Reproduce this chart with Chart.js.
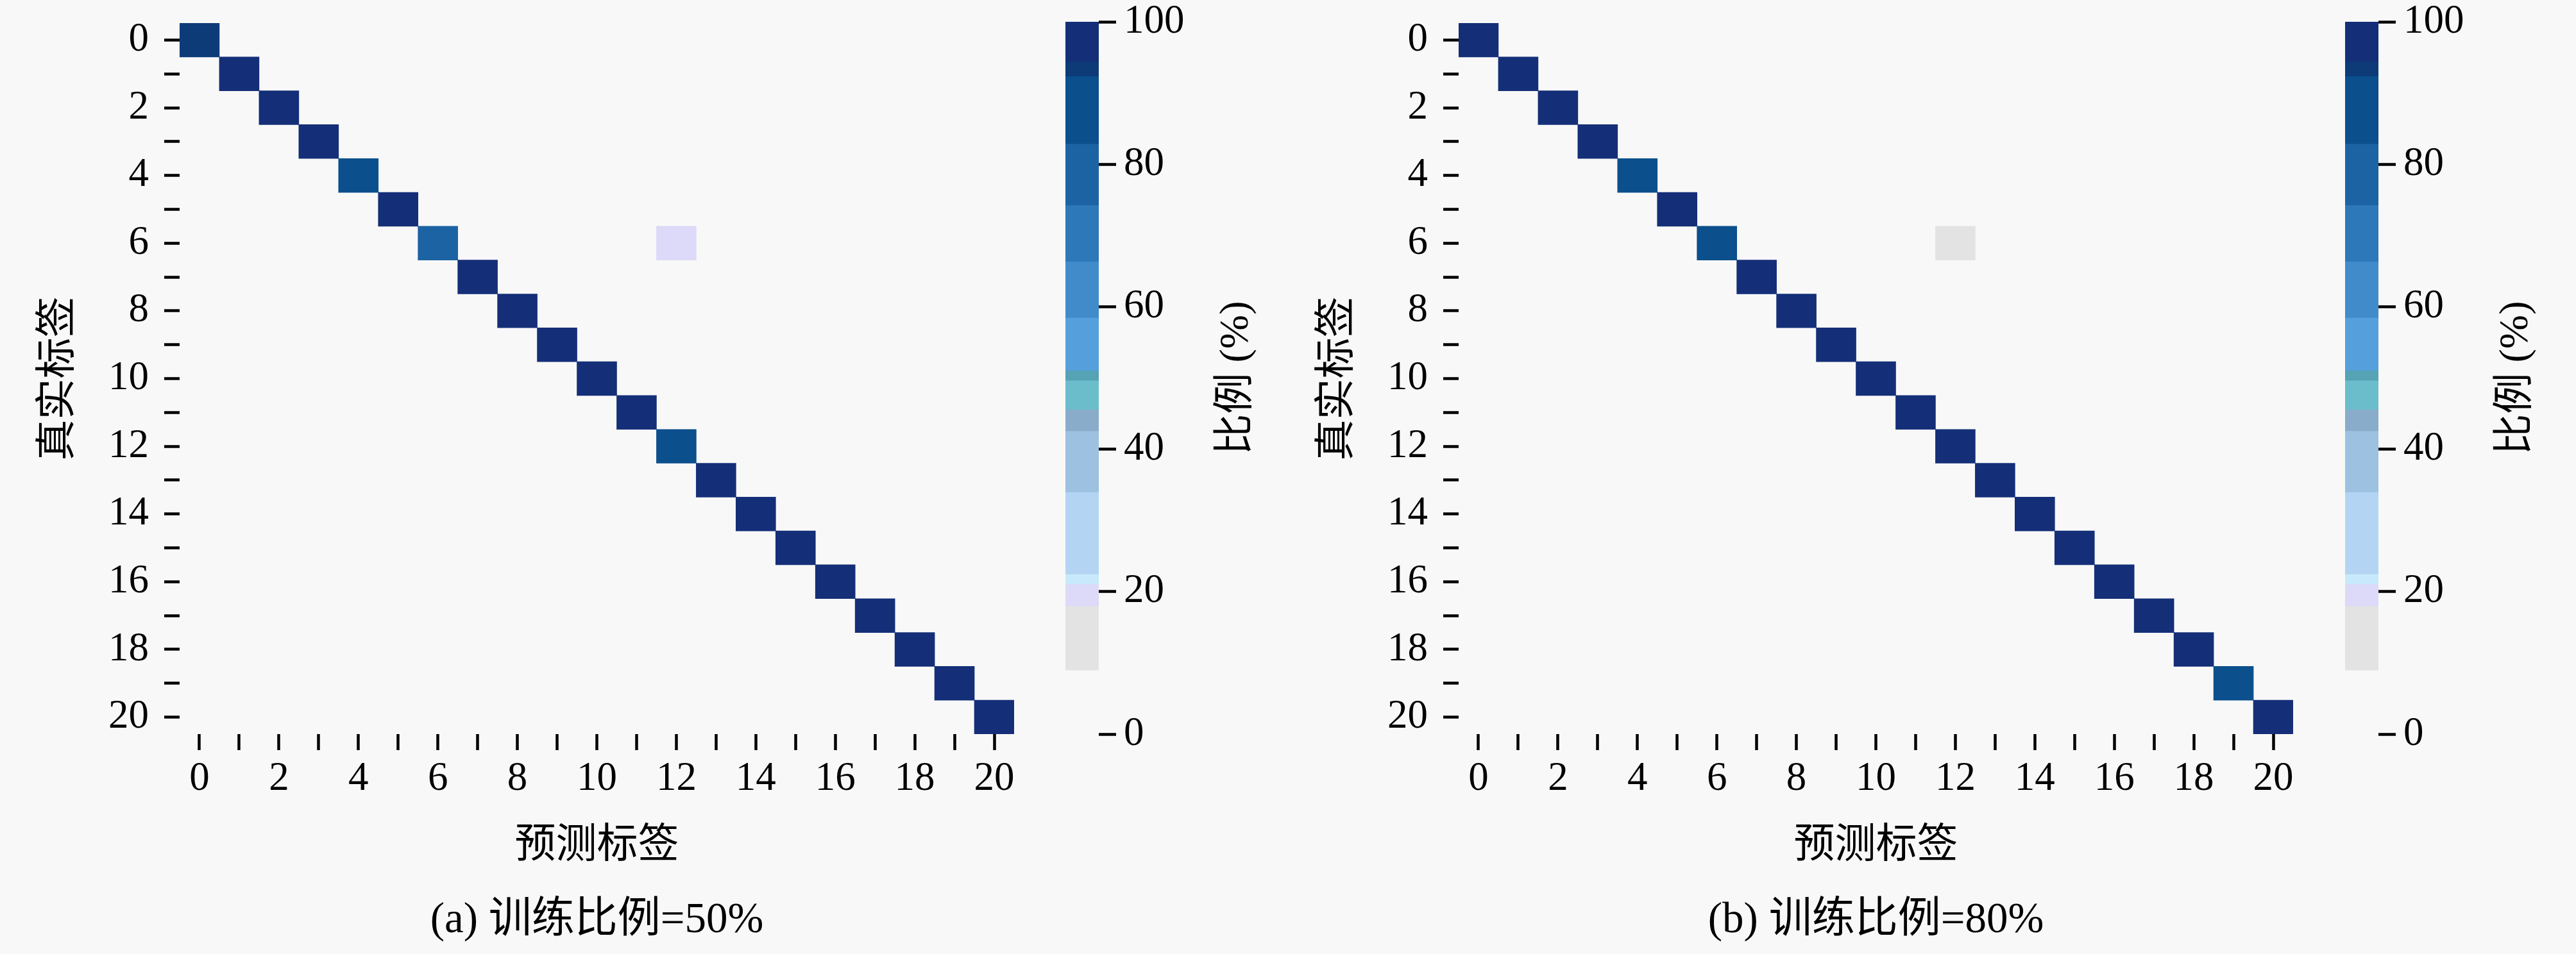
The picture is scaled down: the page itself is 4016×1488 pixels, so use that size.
<!DOCTYPE html>
<html><head><meta charset="utf-8">
<script src="https://cdn.jsdelivr.net/npm/chart.js@4/dist/chart.umd.min.js"></script>
<style>
html,body{margin:0;padding:0;background:#f8f8f8;width:4016px;height:1488px;overflow:hidden}
canvas{position:absolute;top:0}
</style></head><body>
<canvas id="hmA" width="1860" height="1488" style="left:0px;width:1860px;height:1488px"></canvas>
<canvas id="cbA" width="400" height="1488" style="left:1651px;width:400px;height:1488px"></canvas>
<canvas id="hmB" width="1860" height="1488" style="left:1994px;width:1860px;height:1488px"></canvas>
<canvas id="cbB" width="400" height="1488" style="left:3646px;width:400px;height:1488px"></canvas>
<script>
// ---------- data ----------
const classLabels = ['0','1','2','3','4','5','6','7','8','9','10','11','12','13','14','15','16','17','18','19','20'];
// diagonal (correct) percentages per true class
const diagA = [93.5, 98, 98, 98, 88, 98, 80, 98, 98, 98, 98, 98, 87, 98, 98, 98, 98, 98, 98, 98, 97];
const diagB = [98, 98, 98, 98, 88, 98, 86, 98, 98, 98, 98, 98, 98, 98, 98, 98, 98, 98, 98, 89, 98];
// visible off-diagonal entries
const offRowsA = [6], offColsA = [12], offValsA = [20];
const offRowsB = [6], offColsB = [12], offValsB = [14];
// colour bar (discrete bands)
const bandEdges = [9, 18, 21.1, 22.5, 34, 42.6, 45.6, 49.7, 51.1, 58.5, 66.4, 74.3, 82.9, 92.4, 94.5, 100];
const bandColors = ['#e3e3e3', '#ddd9f8', '#c8e9fb', '#b3d5f3', '#9dc1e0', '#8aaccb', '#6bbdcb', '#55a3b4',
                    '#55a0dc', '#418bcb', '#2d78b8', '#1c63a4', '#0b4f8c', '#0c3b78', '#142f78'];
const cbTicks = [0, 20, 40, 60, 80, 100];
const xTitle = '预测标签';
const yTitle = '真实标签';
const cbTitle = '比例 (%)';
const captionA = '(a) 训练比例=50%';
const captionB = '(b) 训练比例=80%';

// ---------- font selection ----------
function fontAvailable(name) {
  const c = document.createElement('canvas').getContext('2d');
  const s = 'mmmmmlli0123456789WQ';
  const res = ['monospace', 'sans-serif'].map(base => {
    c.font = '72px ' + base; const w0 = c.measureText(s).width;
    c.font = "72px '" + name + "', " + base; const w1 = c.measureText(s).width;
    return w0 !== w1;
  });
  return res[0] || res[1];
}
const serifCandidates = ['Liberation Serif', 'DejaVu Serif', 'Noto Serif', 'Times New Roman'];
const serifName = serifCandidates.find(fontAvailable);
const FONT = (serifName ? "'" + serifName + "', " : '') + "'Noto Sans CJK SC', serif";

// ---------- helpers ----------
const H = 1488, TOP = 36, BOTTOM = 1145;
function colorFor(v) {
  for (let i = 0; i < bandColors.length; i++) {
    if (v >= bandEdges[i] && v <= bandEdges[i + 1]) return bandColors[i];
  }
  return 'rgba(0,0,0,0)';
}
function buildCells(diag, offR, offC, offV) {
  const cells = [];
  diag.forEach((v, i) => cells.push({x: classLabels[i], y: [i, i + 1], v: v}));
  offR.forEach((r, k) => cells.push({x: classLabels[offC[k]], y: [r, r + 1], v: offV[k]}));
  return cells.filter(c => c.v >= bandEdges[0]);
}
const evenLabel = (i) => (i % 2 === 0 ? classLabels[i] : '');

function heatmap(id, diag, offR, offC, offV, caption) {
  const titleFont = 67, titleLH = titleFont * 1.2, titlePadB = 11;
  const xHeight = H - BOTTOM - (titleLH + titlePadB);
  return new Chart(document.getElementById(id), {
    type: 'bar',
    data: {
      labels: classLabels,
      datasets: [{
        data: buildCells(diag, offR, offC, offV),
        backgroundColor: (ctx) => colorFor(ctx.raw ? ctx.raw.v : 0),
        borderWidth: 0,
        barPercentage: 1,
        categoryPercentage: 1,
        grouped: false
      }]
    },
    options: {
      responsive: false,
      animation: false,
      events: [],
      layout: {padding: {left: 0, top: TOP, right: 279, bottom: 0}},
      plugins: {
        legend: {display: false},
        tooltip: {enabled: false},
        title: {
          display: true, position: 'bottom', fullSize: false, text: caption, color: '#000',
          font: {family: FONT, size: titleFont, weight: 'normal', lineHeight: 1.2},
          padding: {top: 0, bottom: titlePadB}
        }
      },
      scales: {
        x: {
          type: 'category',
          offset: true,
          grid: {offset: false, drawOnChartArea: false, drawTicks: true, tickLength: 25, tickWidth: 4.5, tickColor: '#000'},
          border: {display: false},
          ticks: {autoSkip: false, maxRotation: 0, minRotation: 0, padding: 8, color: '#000',
                  font: {family: FONT, size: 63}, callback: (val, i) => evenLabel(i)},
          title: {display: true, text: xTitle, color: '#000',
                  font: {family: FONT, size: 64, lineHeight: 1.2}, padding: {top: 0, bottom: 41 - (titleLH + titlePadB - 88.4)}},
          afterFit: (s) => { s.height = xHeight; s.paddingLeft = 0; s.paddingRight = 0; }
        },
        y: {
          type: 'linear', min: 0, max: classLabels.length, reverse: true,
          afterBuildTicks: (s) => { s.ticks = classLabels.map((l, i) => ({value: i + 0.5})); },
          grid: {drawOnChartArea: false, drawTicks: true, tickLength: 24, tickWidth: 4.5, tickColor: '#000'},
          border: {display: false},
          ticks: {autoSkip: false, padding: 24, color: '#000',
                  font: {family: FONT, size: 63}, callback: (val, i) => evenLabel(i)},
          title: {display: true, text: yTitle, color: '#000',
                  font: {family: FONT, size: 64, lineHeight: 1.2}, padding: {top: 54, bottom: 0}},
          afterFit: (s) => { s.width = 280; s.paddingTop = 0; s.paddingBottom = 0; }
        }
      }
    }
  });
}

const cbLabelPlugin = {
  id: 'cbLabel',
  afterDraw(chart) {
    const {ctx, chartArea} = chart;
    ctx.save();
    ctx.translate(chartArea.right + 215, (chartArea.top + chartArea.bottom) / 2);
    ctx.rotate(-Math.PI / 2);
    ctx.font = "64px " + FONT;
    ctx.fillStyle = '#000';
    ctx.textAlign = 'center';
    ctx.textBaseline = 'middle';
    ctx.fillText(cbTitle, 0, 0);
    ctx.restore();
  }
};

function colorbar(id) {
  const bands = bandColors.map((c, i) => ({x: 'cb', y: [bandEdges[i], bandEdges[i + 1]]}));
  return new Chart(document.getElementById(id), {
    type: 'bar',
    data: {
      labels: ['cb'],
      datasets: [{data: bands, backgroundColor: bandColors, borderWidth: 0,
                  barPercentage: 1, categoryPercentage: 1, grouped: false, inflateAmount: 0.6}]
    },
    options: {
      responsive: false, animation: false, events: [],
      layout: {padding: {left: 10, top: 34, right: 0, bottom: H - BOTTOM}},
      plugins: {legend: {display: false}, tooltip: {enabled: false}},
      scales: {
        x: {type: 'category', display: false, offset: true},
        y: {
          type: 'linear', position: 'right', min: 0, max: 100,
          afterBuildTicks: (s) => { s.ticks = cbTicks.map(v => ({value: v})); },
          grid: {drawOnChartArea: false, drawTicks: true, tickLength: 27, tickWidth: 4.5, tickColor: '#000'},
          border: {display: false},
          ticks: {autoSkip: false, padding: 12, color: '#000', font: {family: FONT, size: 63}},
          afterFit: (s) => { s.width = 338; s.paddingTop = 0; s.paddingBottom = 0; }
        }
      }
    },
    plugins: [cbLabelPlugin]
  });
}

heatmap('hmA', diagA, offRowsA, offColsA, offValsA, captionA);
colorbar('cbA');
heatmap('hmB', diagB, offRowsB, offColsB, offValsB, captionB);
colorbar('cbB');
</script>
</body></html>
